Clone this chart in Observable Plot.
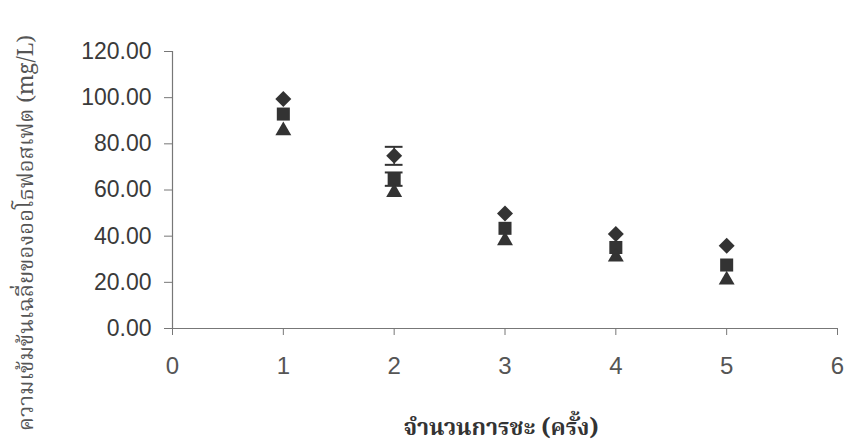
<!DOCTYPE html>
<html>
<head>
<meta charset="utf-8">
<script src="https://cdn.jsdelivr.net/npm/d3@7"></script>
<script src="https://cdn.jsdelivr.net/npm/@observablehq/plot@0.6"></script>
<style>
  html, body { margin: 0; padding: 0; background: #fff; }
  #chart svg { display: block; }
</style>
</head>
<body>
<div id="chart"></div>
<script>
// Data
const rounds = [1, 2, 3, 4, 5];
const seriesA = [99.4, 74.8, 49.8, 40.9, 35.8];   // diamonds
const seriesB = [92.9, 64.7, 43.4, 35.1, 27.5];   // squares
const seriesC = [85.7, 59.0, 38.1, 31.0, 21.0];   // triangles
const errA = [null, 3.9, null, null, null];
const errB = [null, 2.9, null, null, null];
const errC = [null, null, null, null, null];
const yTicks = [0, 20, 40, 60, 80, 100, 120];
const xTicks = [0, 1, 2, 3, 4, 5, 6];
const yLabel = "ความเข้มข้นเฉลี่ยของออโธฟอสเฟต (mg/L)";
const xLabel = "จำนวนการชะ (ครั้ง)";

const series = [
  {name: "A", values: seriesA, err: errA, symbol: "diamond2", r: 7.2},
  {name: "B", values: seriesB, err: errB, symbol: "square2", r: 8.3},
  {name: "C", values: seriesC, err: errC, symbol: "triangle2", r: 7.6}
];
const points = series.flatMap(s => rounds.map((x, i) => ({
  series: s.name, x, y: s.values[i], e: s.err[i]
})));
const errPts = points.filter(d => d.e != null);
const capHalf = 0.08; // half cap width, in x units

const ink = "#333";
const axisColor = "#777";
const thaiFont = "'Noto Serif Thai','Noto Sans Thai','Tlwg Typo','Loma','Garuda','Norasi',serif";

const chart = Plot.plot({
  width: 846,
  height: 447,
  marginLeft: 172,
  marginRight: 9,
  marginTop: 51,
  marginBottom: 119,
  style: {background: "#fff", fontFamily: "'Liberation Sans', Arial, sans-serif", overflow: "visible"},
  x: {type: "linear", domain: [0, 6]},
  y: {type: "linear", domain: [0, 120]},
  marks: [
    Plot.ruleX([0], {stroke: axisColor, strokeWidth: 1.2}),
    Plot.ruleY([0], {stroke: axisColor, strokeWidth: 1.2}),
    Plot.axisY({ticks: yTicks, tickFormat: d => d.toFixed(2), tickSize: 8, tickPadding: 13,
      fontSize: 23, color: "#3a3a3a", stroke: axisColor, label: null}),
    Plot.axisX({ticks: xTicks, tickFormat: d => String(d), tickSize: 7, tickPadding: 21,
      fontSize: 24, color: "#555", stroke: axisColor, label: null}),
    // error bars
    Plot.ruleX(errPts, {x: "x", y1: d => d.y - d.e, y2: d => d.y + d.e, stroke: ink, strokeWidth: 1.5}),
    Plot.ruleY(errPts, {y: d => d.y + d.e, x1: d => d.x - capHalf, x2: d => d.x + capHalf, stroke: ink, strokeWidth: 2}),
    Plot.ruleY(errPts, {y: d => d.y - d.e, x1: d => d.x - capHalf, x2: d => d.x + capHalf, stroke: ink, strokeWidth: 2}),
    // markers
    ...series.map(s => Plot.dot(points.filter(d => d.series === s.name), {
      x: "x", y: "y", symbol: s.symbol, r: s.r, fill: ink, stroke: "none"
    })),
    // axis titles
    Plot.text([yLabel], {frameAnchor: "left", textAnchor: "middle", rotate: -90, dx: -147, dy: 43,
      fontSize: 22, fill: "#555", fontFamily: thaiFont, text: d => d}),
    Plot.text([xLabel], {frameAnchor: "bottom", textAnchor: "middle", dx: -4, dy: 106,
      fontSize: 23, fontWeight: "bold", fill: "#333", fontFamily: thaiFont, text: d => d})
  ]
});
document.getElementById("chart").appendChild(chart);
</script>
</body>
</html>
